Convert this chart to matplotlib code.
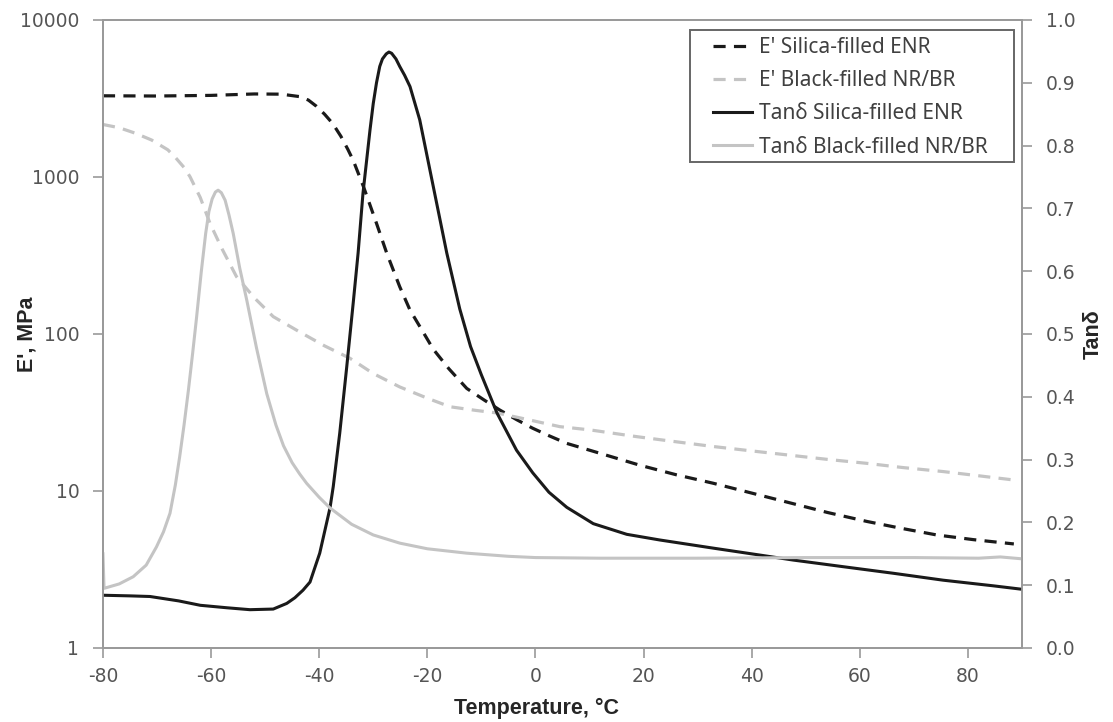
import matplotlib
matplotlib.use("Agg")
import matplotlib.pyplot as plt
from matplotlib.legend_handler import HandlerLine2D
from matplotlib.patches import Rectangle

# E' (MPa), silica-filled ENR
temp_e_silica = [-80, -70, -60, -52, -47, -43.6, -42, -40.5, -39, -37.5, -36, -34.7, -33.7,
                 -31.8, -29.4, -27.5, -25.1, -23.2, -21, -18.9, -16, -12.7, -9.5, -6.6,
                 -3.5, -0.5, 2.5, 5.8, 11.9, 19.3, 26, 32.9, 40, 47.1, 54, 61.3, 67.5,
                 74.2, 81, 88.5]
e_silica = [3290, 3280, 3310, 3380, 3370, 3250, 3090, 2820, 2510, 2190, 1820, 1500, 1275,
            867, 507, 327, 200, 142, 106, 80, 60, 45, 38, 32.8,
            28.5, 25.1, 22.5, 20.1, 17.4, 14.6, 12.7, 11.2, 9.7, 8.4, 7.3, 6.4, 5.8,
            5.25, 4.9, 4.6]

# E' (MPa), black-filled NR/BR
temp_e_black = [-80, -77, -74, -71, -68, -66.5, -65, -63.9, -62, -60.2, -58, -55.3, -52,
                -48.5, -43.6, -39, -34.3, -30, -25.1, -20, -15.8, -11, -7.1, -3, 0, 4.5,
                10.1, 18.7, 25, 32.9, 40, 47.1, 54, 61.3, 68, 75.4, 82, 88.5]
e_black = [2160, 2060, 1900, 1720, 1490, 1320, 1150, 1005, 740, 507, 350, 232, 170,
           129, 103, 84, 70, 56, 46, 39, 34.4, 32.6, 31.4, 29.3, 27.8, 25.7,
           24.5, 22.2, 20.8, 19.2, 18.0, 16.9, 15.9, 15.0, 14.1, 13.3, 12.5, 11.75]

# tan delta, silica-filled ENR
temp_tan_silica = [-80, -75, -71.3, -66, -62, -57, -52.8, -48.5, -46, -44.5, -43, -41.7,
                   -39.9, -38, -37.4, -36.2, -34.9, -33.7, -32.8, -31.9, -30.6, -30,
                   -29.4, -28.8, -28.3, -27.6, -27.1, -26.6, -25.8, -25.1, -24.2, -23.2,
                   -21.4, -18.9, -16.4, -14, -12, -10, -7.1, -3.5, -0.5, 2.5, 5.8, 10.7,
                   16.9, 23, 32.9, 41.5, 47.7, 56.9, 66.2, 75.4, 84.7, 90]
tan_silica = [0.084, 0.083, 0.082, 0.075, 0.068, 0.064, 0.061, 0.062, 0.071, 0.080, 0.092, 0.105,
              0.151, 0.223, 0.257, 0.342, 0.448, 0.550, 0.629, 0.724, 0.825, 0.867,
              0.900, 0.926, 0.938, 0.946, 0.949, 0.947, 0.938, 0.926, 0.912, 0.894,
              0.841, 0.735, 0.629, 0.540, 0.480, 0.435, 0.374, 0.315, 0.279, 0.248, 0.224, 0.198,
              0.181, 0.172, 0.159, 0.148, 0.140, 0.1295, 0.119, 0.108, 0.099, 0.0935]

# tan delta, black-filled NR/BR
temp_tan_black = [-80, -79.8, -77, -74.4, -72, -70.1, -68.8, -67.6, -66.6, -65.8, -65,
                  -64.2, -63.4, -62.7, -61.8, -61, -60.4, -59.8, -59.2, -58.7, -58.1,
                  -57.4, -56.7, -55.9, -54.7, -53.4, -51.6, -49.7, -48, -46.6, -45,
                  -43.6, -42.3, -40, -38, -34, -30, -25.1, -20, -12.7, -5, 0,
                  11.9, 30, 50, 70, 82, 86, 90]
tan_black = [0.15, 0.095, 0.102, 0.1135, 0.132, 0.161, 0.185, 0.2145, 0.26, 0.305, 0.355,
             0.41, 0.47, 0.525, 0.60, 0.66, 0.695, 0.715, 0.726, 0.729, 0.725,
             0.713, 0.690, 0.660, 0.605, 0.554, 0.478, 0.405, 0.355, 0.322, 0.295,
             0.277, 0.262, 0.240, 0.223, 0.197, 0.180, 0.167, 0.158, 0.151, 0.146, 0.144,
             0.143, 0.143, 0.144, 0.144, 0.143, 0.145, 0.142]

labels = ["E' Silica-filled ENR", "E' Black-filled NR/BR",
          "Tanδ Silica-filled ENR", "Tanδ Black-filled NR/BR"]

plt.rcParams['axes.unicode_minus'] = False
plt.rcParams['font.family'] = ['DejaVu Sans']

dark = '#1a1a1a'
light = '#c4c4c4'
spine_c = '#9a9a9a'
tick_c = '#555555'
bold_font = ['Liberation Sans Narrow', 'Liberation Sans', 'DejaVu Sans']
legend_font = ['Noto Sans', 'DejaVu Sans']


# legend line that leaves some room on its left, like the Excel legend
class PaddedLine(HandlerLine2D):
    def get_xdata(self, legend, xdescent, ydescent, width, height, fontsize):
        xdata, xm = super().get_xdata(legend, xdescent, ydescent, width, height, fontsize)
        return [xdata[0] + 0.75 * fontsize, xdata[-1]], xm


fig = plt.figure(figsize=(11.13, 7.22), dpi=100)
ax = fig.add_axes([0.0925, 0.1025, 0.8257, 0.8698])
ax2 = ax.twinx()

dash = (0, (3.8, 2.6))
l1, = ax.plot(temp_e_silica, e_silica, color=dark, lw=2.3, ls=dash)
l2, = ax.plot(temp_e_black, e_black, color=light, lw=2.3, ls=dash)
l3, = ax2.plot(temp_tan_silica, tan_silica, color=dark, lw=2.2)
l4, = ax2.plot(temp_tan_black, tan_black, color=light, lw=2.2)

ax.set_yscale('log')
ax.set_ylim(1, 10000)
ax.set_yticks([1, 10, 100, 1000, 10000])
ax.set_yticklabels(['1', '10', '100', '1000', '10000'])
ax.yaxis.set_minor_locator(matplotlib.ticker.NullLocator())
ax.set_xlim(-80, 90)
ax.set_xticks(range(-80, 81, 20))
ax2.set_ylim(0, 1.0)
ax2.set_yticks([i / 10 for i in range(11)])
ax2.set_yticklabels(['%.1f' % (i / 10) for i in range(11)])

for a in (ax, ax2):
    for s in a.spines.values():
        s.set_color(spine_c)
        s.set_linewidth(1.3)
    a.tick_params(direction='out', length=7, width=1.2, color=spine_c,
                  labelsize=13.5, labelcolor=tick_c, pad=10)
ax.tick_params(axis='x', pad=7)

ax.set_ylabel("E', MPa", fontsize=15.5, fontweight='bold', family=bold_font,
              color='#262626')
ax.yaxis.set_label_coords(-0.083, 0.5)
ax2.set_ylabel("Tanδ", fontsize=15.5, fontweight='bold', family=bold_font,
               color='#262626')
ax2.yaxis.set_label_coords(1.078, 0.5)
ax.set_xlabel("Temperature, °C", fontsize=15.5, fontweight='bold', family=bold_font,
              color='#262626')
ax.xaxis.set_label_coords(0.472, -0.096)
ax.xaxis.label.set_va('center')
ax.yaxis.label.set_va('center')
ax2.yaxis.label.set_va('center')

# legend box (drawn separately so the padding can be uneven)
box_x0, box_y0, box_x1, box_y1 = 0.6387, 0.7739, 0.9913, 0.9841
ax2.add_patch(Rectangle((box_x0, box_y0), box_x1 - box_x0, box_y1 - box_y0,
                        transform=ax2.transAxes, facecolor='white',
                        edgecolor='#666666', lw=1.4, zorder=4))
leg = ax2.legend([l1, l2, l3, l4], labels, loc='upper left',
                 bbox_to_anchor=(box_x0, box_y1), frameon=False,
                 prop={'family': legend_font, 'size': 15}, handlelength=2.65,
                 handletextpad=0.3, labelspacing=0.58, borderpad=0.35,
                 borderaxespad=0, handler_map={plt.Line2D: PaddedLine()})
leg.set_zorder(5)
for t in leg.get_texts():
    t.set_color('#404040')

fig.savefig('out.png', dpi=100)
